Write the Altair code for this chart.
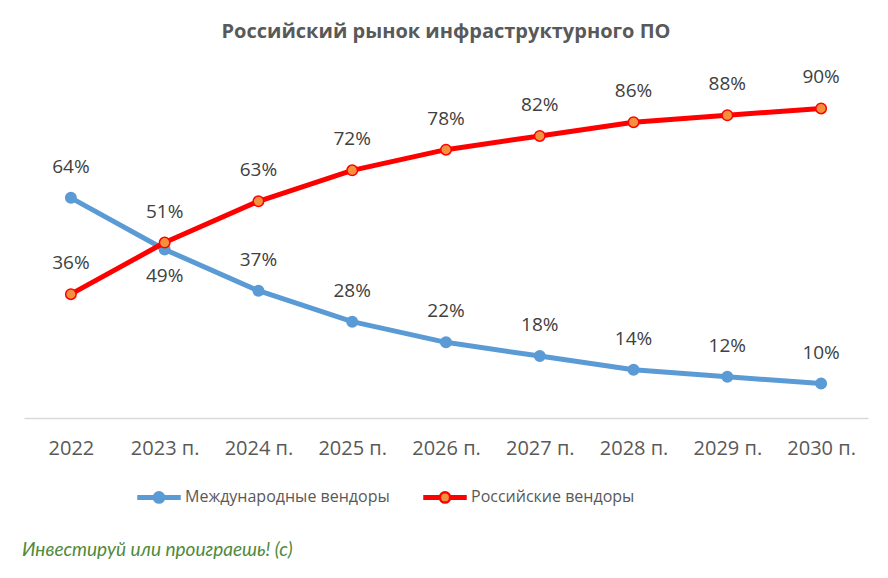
import altair as alt
import pandas as pd

# ---- data ----
years = ["2022", "2023 п.", "2024 п.", "2025 п.", "2026 п.", "2027 п.", "2028 п.", "2029 п.", "2030 п."]
series_names = ["Международные вендоры", "Российские вендоры"]
intl_values = [0.64, 0.49, 0.37, 0.28, 0.22, 0.18, 0.14, 0.12, 0.10]
rus_values = [0.36, 0.51, 0.63, 0.72, 0.78, 0.82, 0.86, 0.88, 0.90]
intl_label_side = ["above", "below", "above", "above", "above", "above", "above", "above", "above"]
rus_label_side = ["above"] * 9
title_text = "Российский рынок инфраструктурного ПО"
watermark_text = "Инвестируй или проиграешь! (с)"

rows = []
for i, yr in enumerate(years):
    rows.append({"year": yr, "series": series_names[0], "value": intl_values[i], "side": intl_label_side[i]})
for i, yr in enumerate(years):
    rows.append({"year": yr, "series": series_names[1], "value": rus_values[i], "side": rus_label_side[i]})
df = pd.DataFrame(rows)

FONT = "Open Sans"
TXT = "#404040"
AX = "#595959"

stroke_scale = alt.Scale(domain=series_names, range=["#5B9BD5", "#FF0000"])
fill_scale = alt.Scale(domain=series_names, range=["#5B9BD5", "#F4913C"])

# legend symbol: line segments + circle (unit = 20.5px)
sym_path = ("M-1,-0.061H-0.26V0.061H-1Z "
            "M0.26,-0.061H1V0.061H0.26Z "
            "M0.25,0A0.25,0.25,0,1,1,-0.25,0A0.25,0.25,0,1,1,0.25,0Z")
legend = alt.Legend(
    title=None, orient="none", legendX=113, legendY=401, direction="horizontal",
    symbolType=sym_path, symbolSize=1681, symbolStrokeWidth=2.5,
    labelFont=FONT, labelFontSize=16, labelColor=AX, labelOffset=4, labelLimit=0,
    columnPadding=29, padding=0, symbolOpacity=1,
)

x_enc = alt.X("year:N", sort=years,
              scale=alt.Scale(type="point", padding=0.5),
              axis=alt.Axis(title=None, labelAngle=0, ticks=False, domainColor="#D9D9D9",
                            domainWidth=1.5, labelFont=FONT, labelFontSize=20,
                            labelColor=AX, labelPadding=20, grid=False))
y_enc = alt.Y("value:Q", scale=alt.Scale(domain=[0, 1]), axis=None)

base = alt.Chart(df).encode(x=x_enc, y=y_enc)

layers = []
for s in series_names:
    sub = base.transform_filter(alt.datum.series == s)
    line = sub.mark_line(strokeWidth=5, strokeCap="round", strokeJoin="round").encode(
        stroke=alt.Stroke("series:N", scale=stroke_scale, legend=legend))
    pts = sub.mark_point(shape="circle", size=110, filled=False, strokeWidth=1.5, opacity=1).encode(
        stroke=alt.Stroke("series:N", scale=stroke_scale, legend=legend),
        fill=alt.Fill("series:N", scale=fill_scale, legend=legend))
    layers += [line, pts]

lab_above = base.transform_filter(alt.datum.side == "above").mark_text(
    dy=-31, font=FONT, fontSize=19, color=TXT, baseline="middle").encode(
    text=alt.Text("value:Q", format=".0%"))
lab_below = base.transform_filter(alt.datum.side == "below").mark_text(
    dy=27, font=FONT, fontSize=19, color=TXT, baseline="middle").encode(
    text=alt.Text("value:Q", format=".0%"))

wm = alt.Chart(pd.DataFrame({"t": [watermark_text]})).mark_text(
    align="left", baseline="middle", font="Lato", fontStyle="italic", fontSize=19,
    color="#4F8A3C").encode(x=alt.value(-2), y=alt.value(476), text="t:N")

chart = alt.layer(*layers, lab_above, lab_below, wm).properties(
    width=844, height=344,
    title=alt.Title(title_text, font=FONT, fontSize=20, fontWeight="bold", color=AX,
                    anchor="middle", offset=26),
    autosize=alt.AutoSizeParams(type="none"),
    padding={"left": 16, "top": 66, "right": 12, "bottom": 150},
).configure(background="white").configure_view(stroke=None, strokeWidth=0)

chart.save("out.html", embed_options={"renderer": "svg", "actions": False})
